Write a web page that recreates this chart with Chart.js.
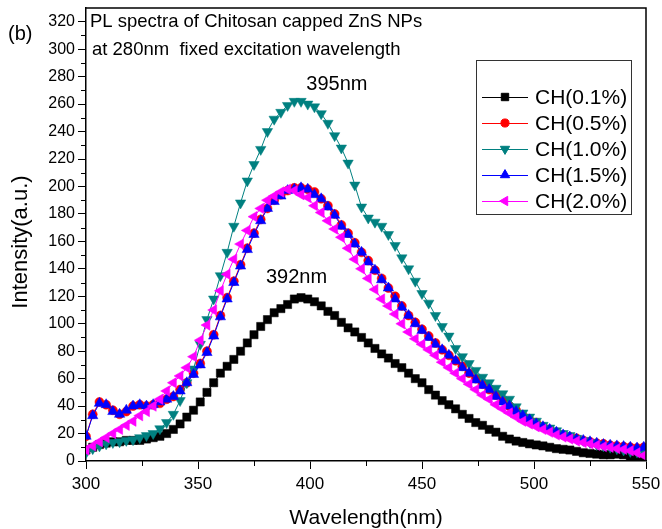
<!DOCTYPE html>
<html>
<head>
<meta charset="utf-8">
<script src="https://cdn.jsdelivr.net/npm/chart.js@4.4.0/dist/chart.umd.min.js"></script>
<style>
  html, body { margin: 0; padding: 0; background: #fff; }
  canvas { display: block; }
</style>
</head>
<body>
<canvas id="plChart" width="662" height="529"></canvas>
<script>
// wavelength grid (nm)
const wavelengths = [
  300, 303, 306, 309, 312, 315, 318, 321, 324, 327, 330, 333,
  336, 339, 342, 345, 348, 351, 354, 357, 360, 363, 366, 369,
  372, 375, 378, 381, 384, 387, 390, 393, 396, 399, 402, 405,
  408, 411, 414, 417, 420, 423, 426, 429, 432, 435, 438, 441,
  444, 447, 450, 453, 456, 459, 462, 465, 468, 471, 474, 477,
  480, 483, 486, 489, 492, 495, 498, 501, 504, 507, 510, 513,
  516, 519, 522, 525, 528, 531, 534, 537, 540, 543, 546, 549
];

const ch01 = [
  8, 10, 12, 13, 14, 14, 15, 15, 15, 16, 17, 18,
  20, 23, 27, 32, 37, 43, 50, 57, 64, 69, 74, 80,
  86, 92, 98, 103, 108, 111, 114, 118, 119, 118, 116, 113,
  109, 106, 101, 97, 94, 90, 86, 82, 78, 75, 71, 68,
  64, 60, 57, 52, 48, 44, 41, 38, 34, 31, 28, 26,
  23, 21, 18, 16, 14.5, 13.5, 12.5, 11.7, 11, 10, 9, 8.5,
  8, 7, 6, 5.5, 5, 4.5, 4.5, 5, 4.5, 3.5, 2.5, 1
];

const ch05 = [
  18, 34, 43, 41, 37, 34, 36, 40, 41, 40, 41, 42,
  45, 47, 52, 57, 64, 71, 80, 92, 106, 119, 131, 143,
  155, 166, 176, 184, 190, 194, 197, 199, 199, 198, 196, 191,
  186, 180, 172, 166, 159, 152, 146, 139, 133, 126, 120, 113,
  106, 101, 96, 91, 86, 81, 77, 73, 69, 64, 60, 56,
  52, 48, 44, 40, 37, 33, 30, 28, 25, 23, 21, 19,
  17.5, 16.5, 15, 14, 13, 12.5, 11.5, 11, 10.5, 10, 9.5, 10
];

const ch10 = [
  6, 9, 11, 12.5, 13.5, 14, 15, 15.5, 17, 18.5, 20, 23.5,
  28, 34, 44, 57, 67, 85, 103, 118, 135, 152, 171, 188,
  204, 216, 227, 240, 249, 254, 259, 262, 262, 260, 258, 253,
  246, 237, 228, 217, 201, 185, 177, 174, 171, 165, 157, 148,
  140, 131, 122, 115, 106, 98, 91, 82, 76, 71, 66, 61,
  57, 53, 49, 45, 39.5, 35, 32, 29, 26, 24, 22, 20,
  18.5, 16.5, 15, 13.5, 12, 11, 10, 9, 8, 7, 6.5, 7
];

const ch15 = [
  18, 33, 42, 41, 36, 34, 37, 40, 41, 40, 41, 43,
  45, 47, 51, 57, 63, 70, 79, 91, 105, 118, 130, 142,
  154, 165, 175, 184, 189, 193, 197, 198, 199, 198, 194, 191,
  185, 179, 171, 165, 158, 152, 145, 139, 132, 126, 118, 112,
  106, 100, 95, 90, 85, 81, 77, 73, 68, 64, 59, 55,
  52, 47, 43, 40, 36, 33, 30, 27, 25, 23, 21, 19,
  17.5, 16, 15, 14, 13, 12, 11.5, 11, 10.5, 10, 9.5, 10
];

const ch20 = [
  8, 11, 14, 17, 20, 23, 26, 29, 33, 36, 40, 45,
  51, 57, 62, 68, 76, 88, 99, 110, 124, 136, 147, 158,
  168, 178, 184, 190, 193, 196, 198, 197, 194, 192, 186, 181,
  175, 169, 163, 155, 147, 140, 133, 125, 118, 113, 107, 100,
  94, 89, 85, 81, 77, 72, 68, 64, 60, 56, 52, 48,
  45, 41, 38, 35, 32, 29, 27, 25, 23, 21, 19, 17.5,
  16, 14.5, 13.5, 12.5, 11.5, 10.5, 10, 9, 8.5, 7.5, 6, 4
];

const seriesNames = ['CH(0.1%)', 'CH(0.5%)', 'CH(1.0%)', 'CH(1.5%)', 'CH(2.0%)'];
const titleLines = ['PL spectra of Chitosan capped ZnS NPs', 'at 280nm  fixed excitation wavelength'];
const peakLabels = [{ text: '395nm', x: 412, y: 274 }, { text: '392nm', x: 394, y: 134 }];
const xTitle = 'Wavelength(nm)';
const yTitle = 'Intensity(a.u.)';

const FONT = '"Liberation Sans", Arial, sans-serif';

function toPoints(vals) {
    return wavelengths.map((w, i) => ({ x: w, y: vals[i] }));
}

function makeSet(label, vals, color, style, rotation, radius, order) {
    return {
        label: label,
        data: toPoints(vals),
        borderColor: color,
        backgroundColor: color,
        borderWidth: 1,
        pointStyle: style,
        rotation: rotation,
        pointRadius: radius,
        pointBorderWidth: 0.5,
        pointBackgroundColor: color,
        pointBorderColor: color,
        tension: 0,
        order: order
    };
}

const datasets = [
    makeSet(seriesNames[0], ch01, '#000000', 'rect', 0, 5.8, 4),
    makeSet(seriesNames[1], ch05, '#FF0000', 'circle', 0, 4.5, 3),
    makeSet(seriesNames[2], ch10, '#008080', 'triangle', 180, 6, 2),
    makeSet(seriesNames[3], ch15, '#0000FF', 'triangle', 0, 6, 1),
    makeSet(seriesNames[4], ch20, '#FF00FF', 'triangle', -90, 6, 0)
];

// frame, minor ticks, axis titles, in-plot texts and the boxed legend
const overlay = {
    id: 'overlay',
    afterDraw(chart) {
        const ctx = chart.ctx;
        const a = chart.chartArea;
        const xs = chart.scales.x, ys = chart.scales.y;
        ctx.save();
        ctx.strokeStyle = '#000';
        ctx.lineWidth = 1.5;
        ctx.beginPath();
        ctx.moveTo(a.left, a.top);
        ctx.lineTo(a.right, a.top);
        ctx.lineTo(a.right, a.bottom);
        ctx.stroke();

        // minor ticks
        ctx.lineWidth = 1;
        ctx.beginPath();
        for (let v = 10; v < 330; v += 20) {
            const py = Math.round(ys.getPixelForValue(v)) + 0.5;
            ctx.moveTo(a.left - 5, py);
            ctx.lineTo(a.left, py);
        }
        for (let v = 325; v < 550; v += 50) {
            const px = Math.round(xs.getPixelForValue(v)) + 0.5;
            ctx.moveTo(px, a.bottom);
            ctx.lineTo(px, a.bottom + 5);
        }
        ctx.stroke();

        ctx.fillStyle = '#000';
        ctx.textBaseline = 'middle';

        // axis titles
        ctx.textAlign = 'center';
        ctx.font = '21px ' + FONT;
        ctx.fillText(xTitle, (a.left + a.right) / 2, 518);
        ctx.save();
        ctx.translate(21, 242);
        ctx.rotate(-Math.PI / 2);
        ctx.font = '22px ' + FONT;
        ctx.fillText(yTitle, 0, 0);
        ctx.restore();

        ctx.textAlign = 'left';
        ctx.font = '18.5px ' + FONT;
        ctx.fillText(titleLines[0], a.left + 4, 22);
        ctx.fillText(titleLines[1], a.left + 6, 50);
        ctx.font = '20px ' + FONT;
        ctx.fillText('(b)', 8, 34);

        ctx.textAlign = 'center';
        ctx.font = '20px ' + FONT;
        peakLabels.forEach(p => {
            ctx.fillText(p.text, xs.getPixelForValue(p.x), ys.getPixelForValue(p.y));
        });

        // legend box
        const bx = 476, by = 60, bw = 155, bh = 154;
        ctx.lineWidth = 1;
        ctx.strokeStyle = '#333';
        ctx.strokeRect(bx + 0.5, by + 0.5, bw, bh);
        chart.data.datasets.forEach((ds, i) => {
            const ry = 97 + i * 26;
            ctx.strokeStyle = ds.borderColor;
            ctx.lineWidth = 1;
            ctx.beginPath();
            ctx.moveTo(482, ry + 0.5);
            ctx.lineTo(528, ry + 0.5);
            ctx.stroke();
            ctx.fillStyle = ds.pointBackgroundColor;
            Chart.helpers.drawPoint(ctx, {
                pointStyle: ds.pointStyle,
                rotation: ds.rotation,
                radius: ds.pointRadius * 0.9,
                borderWidth: 0.5
            }, 505, ry);
            ctx.fillStyle = '#000';
            ctx.textAlign = 'left';
            ctx.font = '21px ' + FONT;
            ctx.fillText(ds.label, 535, ry + 1);
        });
        ctx.restore();
    }
};

new Chart(document.getElementById('plChart'), {
    type: 'line',
    data: { datasets: datasets },
    options: {
        responsive: false,
        animation: false,
        devicePixelRatio: 1,
        layout: { padding: { top: 8, right: 16, left: 0, bottom: 0 } },
        plugins: { legend: { display: false }, tooltip: { enabled: false } },
        scales: {
            x: {
                type: 'linear',
                min: 300,
                max: 550,
                afterFit: function(scale) { scale.height = 68; scale.paddingLeft = 0; scale.paddingRight = 0; },
                ticks: { stepSize: 50, color: '#000', font: { family: FONT, size: 17 }, padding: 5, maxRotation: 0 },
                grid: { drawOnChartArea: false, drawTicks: true, tickLength: 8, color: '#000' },
                border: { color: '#000', width: 1.5 },
                title: { display: false }
            },
            y: {
                type: 'linear',
                min: 0,
                max: 330,
                afterFit: function(scale) { scale.width = 86; scale.paddingTop = 0; scale.paddingBottom = 0; },
                ticks: { stepSize: 20, includeBounds: false, color: '#000', font: { family: FONT, size: 16 }, padding: 3 },
                grid: { drawOnChartArea: false, drawTicks: true, tickLength: 8, color: '#000' },
                border: { color: '#000', width: 1.5 },
                title: { display: false }
            }
        }
    },
    plugins: [overlay]
});
</script>
</body>
</html>
